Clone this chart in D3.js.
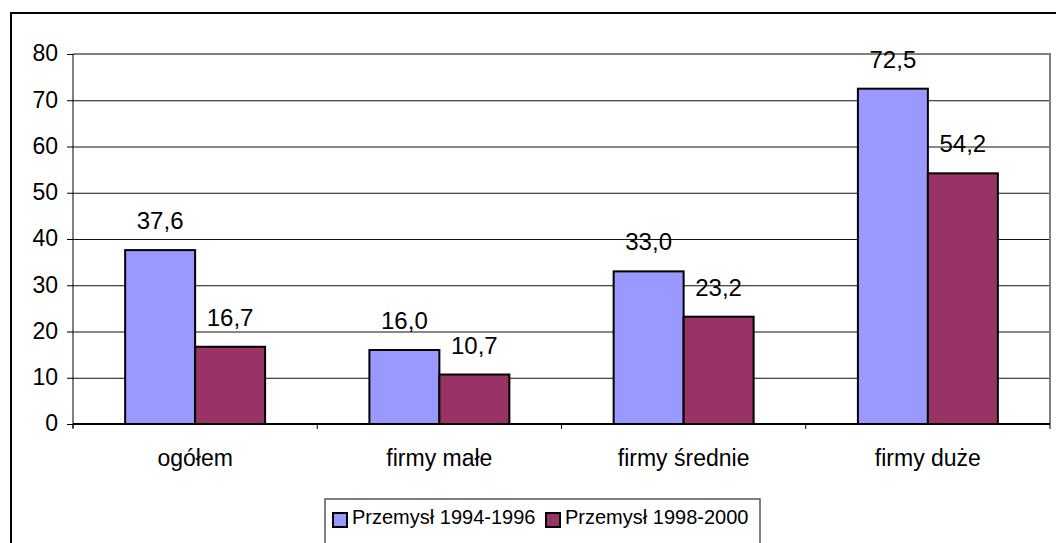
<!DOCTYPE html>
<html>
<head>
<meta charset="utf-8">
<script src="https://cdn.jsdelivr.net/npm/d3@7"></script>
<style>
  html, body { margin: 0; padding: 0; background: #fff; overflow: hidden; }
  svg { display: block; font-family: "Liberation Sans", Arial, sans-serif; }
</style>
</head>
<body>
<svg id="chart" width="1056" height="543"></svg>
<script>
// ---- data ----
const categories = ["ogółem", "firmy małe", "firmy średnie", "firmy duże"];
const seriesNames = ["Przemysł 1994-1996", "Przemysł 1998-2000"];
const series1994 = [37.6, 16.0, 33.0, 72.5];
const series1998 = [16.7, 10.7, 23.2, 54.2];
const yTicks = [0, 10, 20, 30, 40, 50, 60, 70, 80];

const colors = ["#9999FF", "#993366"];
const seriesValues = [series1994, series1998];

const svg = d3.select("#chart");

// outer chart frame (extends beyond the visible window)
svg.append("rect")
  .attr("x", 11).attr("y", 13).attr("width", 1200).attr("height", 700)
  .attr("fill", "#fff").attr("stroke", "#000").attr("stroke-width", 2);

const plot = { left: 73, right: 1050, top: 54, bottom: 424 };

const y = d3.scaleLinear().domain([0, 80]).range([plot.bottom, plot.top]);
const x0 = d3.scaleBand().domain(categories)
  .range([plot.left, plot.right])
  .paddingInner(0.427).paddingOuter(0.2135);
const x1 = d3.scaleBand().domain(seriesNames).range([0, x0.bandwidth()]);

// gridlines
svg.append("g").selectAll("line").data(yTicks.filter(t => t > 0 && t < 80)).join("line")
  .attr("x1", plot.left).attr("x2", plot.right)
  .attr("y1", d => y(d) + 0.5).attr("y2", d => y(d) + 0.5)
  .attr("stroke", "#111").attr("stroke-width", 1);

// plot area border top & right (gray)
svg.append("path")
  .attr("d", `M${plot.left},${y(80)}H${plot.right}V${plot.bottom}`)
  .attr("fill", "none").attr("stroke", "#808080").attr("stroke-width", 2);

// y axis
const yAxis = d3.axisLeft(y).tickValues(yTicks).tickSize(6).tickPadding(9).tickFormat(d3.format("d"));
const gy = svg.append("g").attr("transform", `translate(${plot.left},0)`).call(yAxis);
gy.select(".domain").attr("stroke", "#000").attr("stroke-width", 1)
  .attr("d", `M0,${y(80)}V${plot.bottom + 4}`);
gy.selectAll(".tick line").attr("stroke", "#000");
gy.selectAll(".tick text").attr("font-size", 23).attr("fill", "#000")
  .attr("font-family", "Liberation Sans, Arial, sans-serif").attr("dy", "0.3em");

// bars
const groups = svg.append("g").selectAll("g").data(categories).join("g")
  .attr("transform", d => `translate(${x0(d)},0)`);

groups.selectAll("rect").data((c, i) => seriesNames.map((s, k) => ({ s, k, v: seriesValues[k][i] })))
  .join("rect")
  .attr("x", d => x1(d.s))
  .attr("y", d => y(d.v))
  .attr("width", x1.bandwidth())
  .attr("height", d => y(0) - y(d.v))
  .attr("fill", d => colors[d.k])
  .attr("stroke", "#000").attr("stroke-width", 2);

// value labels
groups.selectAll("text").data((c, i) => seriesNames.map((s, k) => ({ s, k, v: seriesValues[k][i] })))
  .join("text")
  .attr("x", d => x1(d.s) + x1.bandwidth() / 2)
  .attr("y", d => y(d.v) - 21)
  .attr("text-anchor", "middle")
  .attr("font-size", 24)
  .attr("fill", "#000")
  .text(d => d.v.toFixed(1).replace(".", ","));

// x axis
svg.append("line")
  .attr("x1", plot.left).attr("x2", plot.right)
  .attr("y1", plot.bottom).attr("y2", plot.bottom)
  .attr("stroke", "#000").attr("stroke-width", 2);

const xStep = x0.step();
svg.append("g").selectAll("line").data(d3.range(categories.length + 1)).join("line")
  .attr("x1", i => plot.left + i * xStep).attr("x2", i => plot.left + i * xStep)
  .attr("y1", plot.bottom).attr("y2", plot.bottom + 5)
  .attr("stroke", "#000").attr("stroke-width", 1);

svg.append("g").selectAll("text").data(categories).join("text")
  .attr("x", d => x0(d) + x0.bandwidth() / 2)
  .attr("y", 466)
  .attr("text-anchor", "middle")
  .attr("font-size", 23)
  .attr("fill", "#000")
  .text(d => d);

// legend
const legend = svg.append("g");
legend.append("rect")
  .attr("x", 325).attr("y", 499).attr("width", 435).attr("height", 80)
  .attr("fill", "#fff").attr("stroke", "#555").attr("stroke-width", 1.5);

const legendX = [333, 546];
seriesNames.forEach((name, k) => {
  legend.append("rect")
    .attr("x", legendX[k]).attr("y", 513).attr("width", 14).attr("height", 14)
    .attr("fill", colors[k]).attr("stroke", "#000").attr("stroke-width", 2);
  legend.append("text")
    .attr("x", legendX[k] + 19).attr("y", 524)
    .attr("font-size", 20).attr("fill", "#000")
    .text(name);
});
</script>
</body>
</html>
